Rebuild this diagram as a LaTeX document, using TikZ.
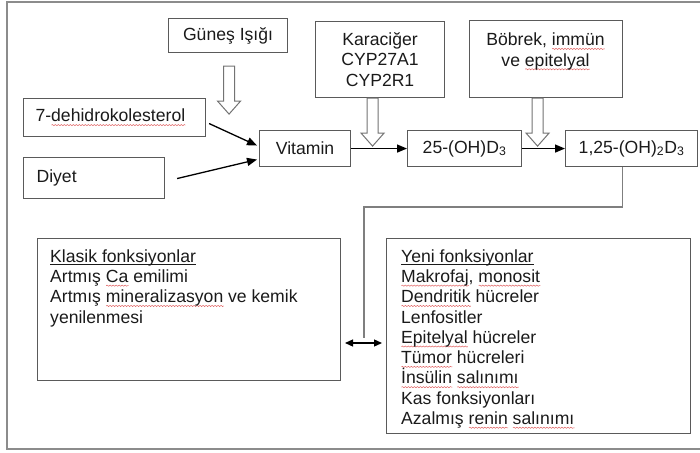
\documentclass[tikz,border=0pt]{standalone}
\usepackage{fontspec}
\setmainfont{Liberation Sans}
\usetikzlibrary{arrows.meta,decorations.pathmorphing}
\definecolor{framec}{HTML}{8C8C8C}
\definecolor{bordc}{HTML}{5A5A5A}
\definecolor{connc}{HTML}{7F7F7F}
\definecolor{txtc}{HTML}{1A1A1A}
\definecolor{squigc}{HTML}{E06060}
\newlength\sqlen
\newcommand\sqw[1]{\settowidth\sqlen{#1}\rlap{\tikz[baseline=0pt]\draw[squigc,line width=0.5pt,decoration={snake,amplitude=0.6pt,segment length=3pt}] decorate {(0pt,-3.2pt) -- (\the\sqlen,-3.2pt)};}#1}
\newcommand\ulin[1]{\settowidth\sqlen{#1}\rlap{\rule[-2.3pt]{\sqlen}{0.9pt}}#1}
\tikzset{
  every node/.style={font=\fontsize{17.6}{20.3}\selectfont, text=txtc, inner sep=0pt},
  boxn/.style={draw=bordc, line width=1.1pt, rectangle, anchor=north west},
  hollow/.style={draw=bordc!85, line width=1pt, fill=white, line join=miter},
  blackarr/.style={draw=black, line width=1.3pt, -{Triangle[length=10pt,width=8pt]}},
  dblarr/.style={draw=black, line width=1.3pt, {Triangle[length=8pt,width=7pt]}-{Triangle[length=8pt,width=7pt]}},
  conn/.style={draw=connc, line width=1.5pt},
  holarr/.pic={\draw[hollow] (-5.5,0) -- (5.5,0) -- (5.5,35) -- (11.5,35) -- (0,48) -- (-11.5,35) -- (-5.5,35) -- cycle;}
}
\begin{document}
\begin{tikzpicture}[x=1pt,y=-1pt]
\useasboundingbox (0,0) rectangle (700,452);
% outer frame
\draw[draw=framec, line width=1.5pt] (705,2) -- (7,2) -- (7,449) -- (705,449);

% top boxes
\node[boxn, minimum width=119, minimum height=34] (sun) at (168,18) {Güneş Işığı};
\node[boxn, minimum width=129, minimum height=76, align=center] (kc) at (315,21) {Karaciğer\\CYP27A1\\CYP2R1};
\node[boxn, minimum width=153, minimum height=77] (bb) at (469,20) {};
\node[align=center] (bbt) at (545.5,51.5) {Böbrek, \sqw{immün}\\ve \sqw{epitelyal}};

% left boxes
\node[boxn, minimum width=182, minimum height=38, text width=158, inner xsep=12pt, align=left] (dh) at (23,98) {7-\sqw{dehidrokolesterol}};
\node[boxn, minimum width=141, minimum height=41, text width=115, inner xsep=13pt, align=left] (di) at (23,157) {Diyet};

% chain
\node[boxn, minimum width=91, minimum height=36] (vit) at (259,130) {Vitamin};
\node[boxn, minimum width=114, minimum height=36] (o25) at (407,130) {25-(OH)D\textsubscript{3}};
\node[boxn, minimum width=132, minimum height=36] (d125) at (565,130) {1,25-(OH)\textsubscript{2}D\textsubscript{3}};

% hollow arrows
\pic at ([yshift=-13pt,xshift=1pt]sun.south) {holarr};
\pic at ([xshift=-7.5pt]kc.south) {holarr};
\pic at ([xshift=-8.5pt]bb.south) {holarr};

% black arrows
\draw[blackarr] ([shift={(3,6)}]dh.east) -- ([shift={(-2,-3)}]vit.west);
\draw[blackarr] ([shift={(12,0.5)}]di.east) -- ([shift={(-2,11)}]vit.west);
\draw[blackarr] (vit.east) -- (o25.west);
\draw[blackarr] (o25.east) -- (d125.west);

% bottom boxes
\node[boxn, minimum width=303, minimum height=142] (kl) at (37,238) {};
\node[anchor=north west, align=left] (klt) at (50,249.2) {\ulin{Klasik fonksiyonlar}\\Artmış \sqw{Ca} emilimi\\Artmış \sqw{mineralizasyon} ve kemik\\yenilenmesi};
\node[boxn, minimum width=304, minimum height=195] (yn) at (386,238) {};
\node[anchor=north west, align=left] (ynt) at (401,249.2) {\ulin{Yeni fonksiyonlar}\\\sqw{Makrofaj}, \sqw{monosit}\\\sqw{Dendritik} hücreler\\Lenfositler\\\sqw{Epitelyal} hücreler\\\sqw{Tümor} hücreleri\\\sqw{İnsülin} \sqw{salınımı}\\Kas fonksiyonları\\Azalmış \sqw{renin} \sqw{salınımı}};

% grey connector and double arrow
\coordinate (bend) at (364,207);
\coordinate (vend) at (364,338);
\draw[conn] ([xshift=-9pt]d125.south) |- (bend) -- (vend);
\coordinate (dl) at (345,343);
\coordinate (dr) at (382,343);
\draw[dblarr] (dl) -- (dr);
\end{tikzpicture}
\end{document}
